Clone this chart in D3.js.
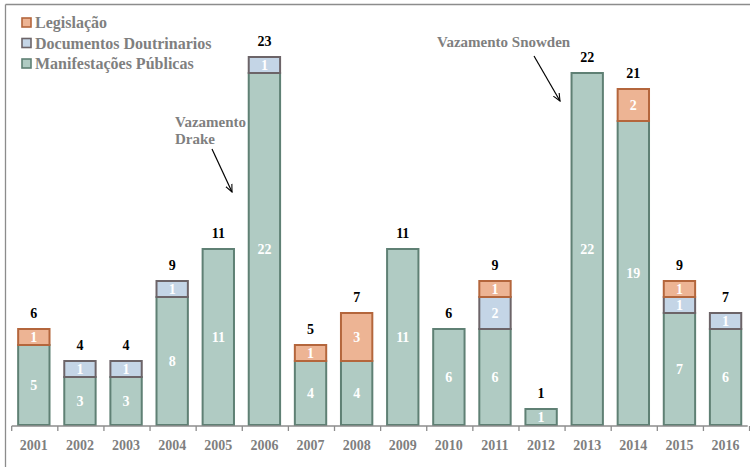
<!DOCTYPE html>
<html>
<head>
<meta charset="utf-8">
<script src="https://cdn.jsdelivr.net/npm/d3@7"></script>
<style>
  body { margin: 0; background: #fff; }
</style>
</head>
<body>
<svg width="750" height="467"></svg>
<script>
var years = ["2001","2002","2003","2004","2005","2006","2007","2008","2009","2010","2011","2012","2013","2014","2015","2016"];
var manifestacoes = [5, 3, 3, 8, 11, 22, 4, 4, 11, 6, 6, 1, 22, 19, 7, 6];
var documentos    = [0, 1, 1, 1, 0, 1, 0, 0, 0, 0, 2, 0, 0, 0, 1, 1];
var legislacao    = [1, 0, 0, 0, 0, 0, 1, 3, 0, 0, 1, 0, 0, 2, 1, 0];
var seriesNames = ["Manifestações Públicas", "Documentos Doutrinarios", "Legislação"];

var svg = d3.select("svg")
    .style("font-family", "'Liberation Serif', 'DejaVu Serif Condensed', 'DejaVu Serif', serif")
    .style("font-weight", "bold"),
    width = +svg.attr("width"),
    height = +svg.attr("height");

var fills = ["#b0cbc3", "#c4d5e6", "#edb494"];
var strokes = ["#5f8074", "#6c6468", "#b4663c"];

var rows = years.map(function(y, i) {
  return { year: y, m: manifestacoes[i], d: documentos[i], l: legislacao[i] };
});
var stack = d3.stack().keys(["m", "d", "l"])(rows);

var x = d3.scaleBand().domain(years).range([11.7, 747.7]).paddingInner(0.32).paddingOuter(0.14);
var y = d3.scaleLinear().domain([0, 22]).range([425, 73]);

// frame (only top and left visible)
svg.append("line").attr("x1", 5.5).attr("x2", width).attr("y1", 4.5).attr("y2", 4.5)
    .attr("stroke", "#8c8c8c").attr("stroke-width", 1.3);
svg.append("line").attr("x1", 5.5).attr("x2", 5.5).attr("y1", 4.5).attr("y2", height)
    .attr("stroke", "#8c8c8c").attr("stroke-width", 1.3);

var layer = svg.selectAll("g.layer")
  .data(stack)
  .enter().append("g")
    .attr("class", "layer");

layer.selectAll("rect")
  .data(function(d, k) { return d.map(function(p) { p.k = k; return p; }).filter(function(p) { return p[1] > p[0]; }); })
  .enter().append("rect")
    .attr("x", function(d) { return x(d.data.year); })
    .attr("width", x.bandwidth())
    .attr("y", function(d) { return y(d[1]); })
    .attr("height", function(d) { return y(d[0]) - y(d[1]); })
    .attr("fill", function(d) { return fills[d.k]; })
    .attr("stroke", function(d) { return strokes[d.k]; })
    .attr("stroke-width", 2);

layer.selectAll("text")
  .data(function(d) { return d.filter(function(p) { return p[1] > p[0]; }); })
  .enter().append("text")
    .attr("x", function(d) { return x(d.data.year) + x.bandwidth() / 2; })
    .attr("y", function(d) { return (y(d[0]) + y(d[1])) / 2 + 5; })
    .attr("text-anchor", "middle")
    .attr("fill", "#fff")
    .style("font-size", "14px")
    .text(function(d) { return d[1] - d[0]; });

// totals
svg.append("g").selectAll("text")
  .data(rows)
  .enter().append("text")
    .attr("x", function(d) { return x(d.year) + x.bandwidth() / 2; })
    .attr("y", function(d) { return y(d.m + d.d + d.l) - 11; })
    .attr("text-anchor", "middle")
    .attr("fill", "#000")
    .style("font-size", "14px")
    .text(function(d) { return d.m + d.d + d.l; });

// x axis
var xAxis = svg.append("g")
    .attr("transform", "translate(0,426)");
xAxis.append("line").attr("x1", 11.7).attr("x2", 747.7).attr("stroke", "#8c8c8c").attr("stroke-width", 1.3);
xAxis.selectAll("line.tick")
  .data(d3.range(years.length + 1))
  .enter().append("line")
    .attr("class", "tick")
    .attr("x1", function(i) { return 11.7 + i * x.step(); })
    .attr("x2", function(i) { return 11.7 + i * x.step(); })
    .attr("y1", 0).attr("y2", 5)
    .attr("stroke", "#8c8c8c").attr("stroke-width", 1.3);
xAxis.selectAll("text")
  .data(years)
  .enter().append("text")
    .attr("x", function(d) { return x(d) + x.bandwidth() / 2; })
    .attr("y", 24)
    .attr("text-anchor", "middle")
    .attr("fill", "#7f7f7f")
    .style("font-size", "14px")
    .text(function(d) { return d; });

// legend
var legendOrder = [2, 1, 0];
var legend = svg.append("g").selectAll("g")
  .data(legendOrder)
  .enter().append("g")
    .attr("transform", function(k, i) { return "translate(22," + (18 + i * 20.5) + ")"; });
legend.append("rect")
    .attr("width", 9).attr("height", 9)
    .attr("fill", function(k) { return fills[k]; })
    .attr("stroke", function(k) { return strokes[k]; })
    .attr("stroke-width", 1.6);
legend.append("text")
    .attr("x", 13).attr("y", 10)
    .attr("fill", "#7f7f7f")
    .style("font-size", "16px")
    .text(function(k) { return seriesNames[k]; });

// annotations
svg.append("defs").append("marker")
    .attr("id", "arrow")
    .attr("viewBox", "0 0 10 10")
    .attr("refX", 9).attr("refY", 5)
    .attr("markerWidth", 7).attr("markerHeight", 7)
    .attr("orient", "auto")
  .append("path")
    .attr("d", "M0,1 L9,5 L0,9")
    .attr("fill", "none").attr("stroke", "#000").attr("stroke-width", 1.3);

svg.append("text").attr("x", 437).attr("y", 47).attr("fill", "#7f7f7f").style("font-size", "15px")
    .text("Vazamento Snowden");
svg.append("line").attr("x1", 534).attr("y1", 56).attr("x2", 560).attr("y2", 101)
    .attr("stroke", "#000").attr("stroke-width", 1.2).attr("marker-end", "url(#arrow)");

var drake = svg.append("text").attr("fill", "#7f7f7f").style("font-size", "15px");
drake.append("tspan").attr("x", 175).attr("y", 127).text("Vazamento");
drake.append("tspan").attr("x", 175).attr("y", 144).text("Drake");
svg.append("line").attr("x1", 212).attr("y1", 149).attr("x2", 232).attr("y2", 192)
    .attr("stroke", "#000").attr("stroke-width", 1.2).attr("marker-end", "url(#arrow)");
</script>
</body>
</html>
